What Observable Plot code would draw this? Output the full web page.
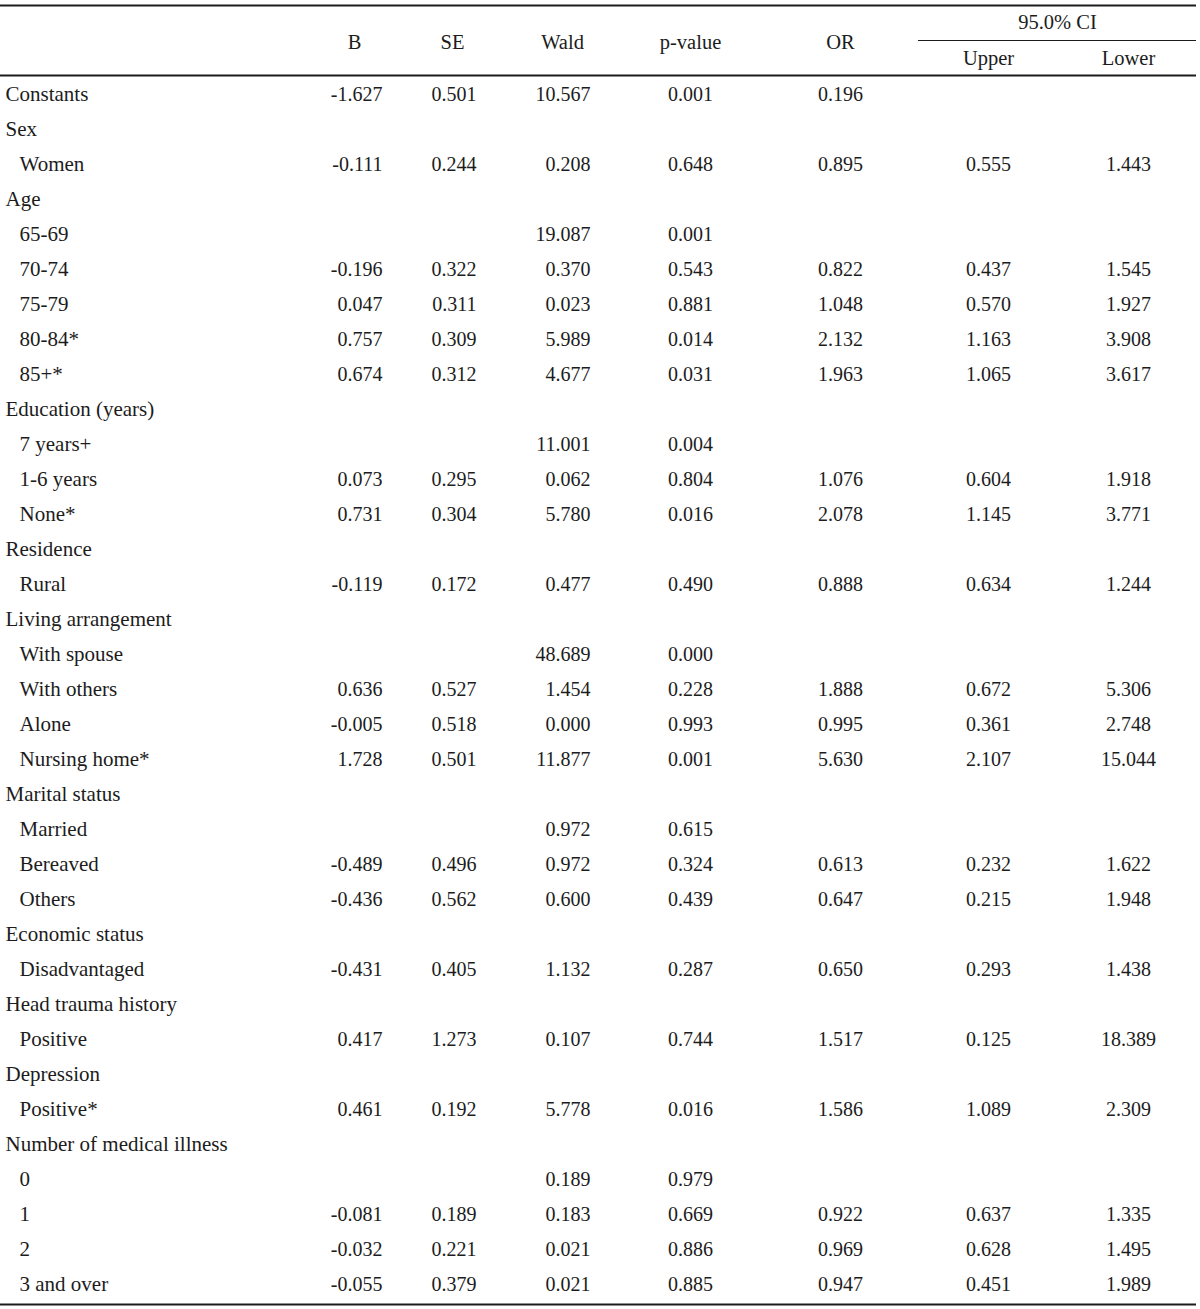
<!DOCTYPE html>
<html>
<head>
<meta charset="utf-8">
<script src="https://cdn.jsdelivr.net/npm/d3@7"></script>
<script src="https://cdn.jsdelivr.net/npm/@observablehq/plot@0.6"></script>
<style>
  html, body { margin: 0; padding: 0; background: #fff; }
  #chart svg { display: block; }
</style>
</head>
<body>
<div id="chart"></div>
<script>
const rowLabels = [
  "Constants", "Sex", "Women", "Age", "65-69", "70-74", "75-79", "80-84*", "85+*",
  "Education (years)", "7 years+", "1-6 years", "None*", "Residence", "Rural",
  "Living arrangement", "With spouse", "With others", "Alone", "Nursing home*",
  "Marital status", "Married", "Bereaved", "Others", "Economic status", "Disadvantaged",
  "Head trauma history", "Positive", "Depression", "Positive*",
  "Number of medical illness", "0", "1", "2", "3 and over"
];
const rowLevel = [
  0, 0, 1, 0, 1, 1, 1, 1, 1,
  0, 1, 1, 1, 0, 1,
  0, 1, 1, 1, 1,
  0, 1, 1, 1, 0, 1,
  0, 1, 0, 1,
  0, 1, 1, 1, 1
];
const B = [
  "-1.627", "", "-0.111", "", "", "-0.196", "0.047", "0.757", "0.674",
  "", "", "0.073", "0.731", "", "-0.119",
  "", "", "0.636", "-0.005", "1.728",
  "", "", "-0.489", "-0.436", "", "-0.431",
  "", "0.417", "", "0.461",
  "", "", "-0.081", "-0.032", "-0.055"
];
const SE = [
  "0.501", "", "0.244", "", "", "0.322", "0.311", "0.309", "0.312",
  "", "", "0.295", "0.304", "", "0.172",
  "", "", "0.527", "0.518", "0.501",
  "", "", "0.496", "0.562", "", "0.405",
  "", "1.273", "", "0.192",
  "", "", "0.189", "0.221", "0.379"
];
const Wald = [
  "10.567", "", "0.208", "", "19.087", "0.370", "0.023", "5.989", "4.677",
  "", "11.001", "0.062", "5.780", "", "0.477",
  "", "48.689", "1.454", "0.000", "11.877",
  "", "0.972", "0.972", "0.600", "", "1.132",
  "", "0.107", "", "5.778",
  "", "0.189", "0.183", "0.021", "0.021"
];
const pValue = [
  "0.001", "", "0.648", "", "0.001", "0.543", "0.881", "0.014", "0.031",
  "", "0.004", "0.804", "0.016", "", "0.490",
  "", "0.000", "0.228", "0.993", "0.001",
  "", "0.615", "0.324", "0.439", "", "0.287",
  "", "0.744", "", "0.016",
  "", "0.979", "0.669", "0.886", "0.885"
];
const OR = [
  "0.196", "", "0.895", "", "", "0.822", "1.048", "2.132", "1.963",
  "", "", "1.076", "2.078", "", "0.888",
  "", "", "1.888", "0.995", "5.630",
  "", "", "0.613", "0.647", "", "0.650",
  "", "1.517", "", "1.586",
  "", "", "0.922", "0.969", "0.947"
];
const Upper = [
  "", "", "0.555", "", "", "0.437", "0.570", "1.163", "1.065",
  "", "", "0.604", "1.145", "", "0.634",
  "", "", "0.672", "0.361", "2.107",
  "", "", "0.232", "0.215", "", "0.293",
  "", "0.125", "", "1.089",
  "", "", "0.637", "0.628", "0.451"
];
const Lower = [
  "", "", "1.443", "", "", "1.545", "1.927", "3.908", "3.617",
  "", "", "1.918", "3.771", "", "1.244",
  "", "", "5.306", "2.748", "15.044",
  "", "", "1.622", "1.948", "", "1.438",
  "", "18.389", "", "2.309",
  "", "", "1.335", "1.495", "1.989"
];
const columnHeaders = ["B", "SE", "Wald", "p-value", "OR", "Upper", "Lower"];
const groupHeader = "95.0% CI";

// ---- Layout ----
const W = 1200, H = 1309;
const firstRow = 94, rowStep = 35;              // pixel centre of row 0 and row pitch
const toRow = p => (p - firstRow) / rowStep;    // pixel -> row units
const ink = "#1c1c1c";
const font = "Liberation Serif";

const columns = [
  {key: "B",       values: B,      x: 382,  anchor: "end",    hx: 354},
  {key: "SE",      values: SE,     x: 476,  anchor: "end",    hx: 452},
  {key: "Wald",    values: Wald,   x: 590,  anchor: "end",    hx: 562},
  {key: "p-value", values: pValue, x: 690,  anchor: "middle", hx: 690},
  {key: "OR",      values: OR,     x: 840,  anchor: "middle", hx: 840},
  {key: "Upper",   values: Upper,  x: 988,  anchor: "middle", hx: 988},
  {key: "Lower",   values: Lower,  x: 1128, anchor: "middle", hx: 1128}
];

const rows = rowLabels.map((label, i) => {
  const r = {i, label, level: rowLevel[i]};
  columns.forEach(c => { r[c.key] = c.values[i]; });
  return r;
});

const headerY = toRow(42), groupY = toRow(22), subY = toRow(58);

const marks = [];
// horizontal rules
marks.push(Plot.ruleY([toRow(5)], {x1: 0, x2: 1196, stroke: ink, strokeWidth: 2}));
marks.push(Plot.ruleY([toRow(75)], {x1: 0, x2: 1196, stroke: ink, strokeWidth: 2}));
marks.push(Plot.ruleY([toRow(1304)], {x1: 0, x2: 1196, stroke: ink, strokeWidth: 2}));
marks.push(Plot.ruleY([toRow(40)], {x1: 918, x2: 1196, stroke: ink, strokeWidth: 1}));

// column headers
columns.forEach((c, k) => {
  const inGroup = c.key === "Upper" || c.key === "Lower";
  marks.push(Plot.text([columnHeaders[k]], {
    x: () => c.hx, y: () => inGroup ? subY : headerY, text: d => d,
    textAnchor: "middle", fontSize: 20.5, fill: ink
  }));
});
marks.push(Plot.text([groupHeader], {
  x: () => 1057, y: () => groupY, text: d => d, textAnchor: "middle", fontSize: 20.5, fill: ink
}));

// row labels
marks.push(Plot.text(rows, {
  x: d => d.level === 0 ? 5 : 19, y: "i", text: "label",
  textAnchor: "start", fontSize: 21, fill: ink
}));

// cell values
columns.forEach(c => {
  marks.push(Plot.text(rows.filter(d => d[c.key] !== ""), {
    x: () => c.x, y: "i", text: c.key, textAnchor: c.anchor, fontSize: 20, fill: ink
  }));
});

const chart = Plot.plot({
  width: W, height: H,
  margin: 0,
  style: {fontFamily: font, background: "#fff", color: ink},
  x: {type: "linear", domain: [0, W], range: [0, W], axis: null},
  y: {type: "linear", domain: [toRow(0), toRow(H)], range: [0, H], axis: null},
  marks
});
document.getElementById("chart").appendChild(chart);
</script>
</body>
</html>
